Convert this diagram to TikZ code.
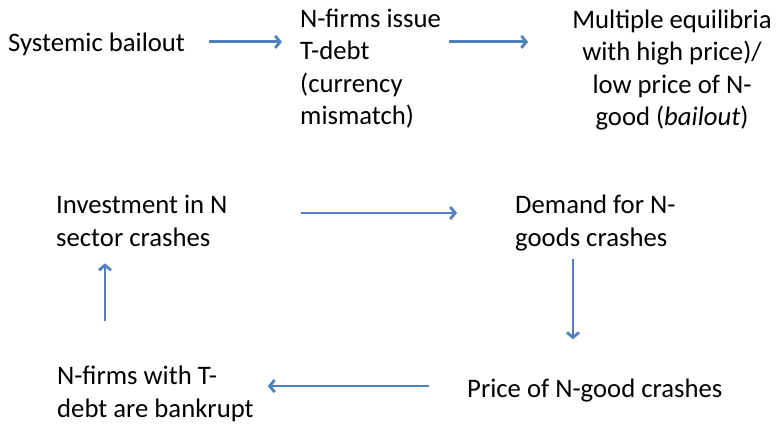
\documentclass[tikz,border=0pt]{standalone}
\usepackage{fontspec}
\setmainfont{Carlito}
\usetikzlibrary{arrows.meta}

\definecolor{bluofc}{HTML}{4F81BD}

\tikzset{
    testo/.style={inner sep=0pt, font=\fontsize{26.7}{32.6}\selectfont},
    freccia/.style={draw=bluofc, line width=2.8pt,
        -{Straight Barb[length=5pt, width=12pt]}}
}

\begin{document}
\begin{tikzpicture}[x=1pt, y=1pt]

    \useasboundingbox (0,0) rectangle (777,-425);

    % Riga superiore (base = ultima riga)
    \node[testo, anchor=base west] (sb) at (8,-52) {Systemic bailout};
    \node[testo, anchor=base west, align=left] (nf) at (300,-125)
        {N-firms issue\\T-debt\\(currency\\mismatch)};
    \node[testo, anchor=base, align=center] (me) at (672,-126)
        {Multiple equilibria\\with high price)/\\low price of N-\\good (\textit{bailout})};

    % Ciclo della crisi
    \node[testo, anchor=base west, align=left] (inv) at (56,-246)
        {Investment in N\\sector crashes};
    \node[testo, anchor=base west, align=left] (dem) at (515,-246)
        {Demand for N-\\goods crashes};
    \node[testo, anchor=base west] (pr) at (467,-397) {Price of N-good crashes};
    \node[testo, anchor=base west, align=left] (bk) at (57,-417)
        {N-firms with T-\\debt are bankrupt};

    % Frecce in alto
    \draw[freccia, shorten <=24pt, shorten >=18pt]
        ([yshift=3pt]sb.east) -- ([yshift=3pt]sb.east -| nf.west);
    \draw[freccia, shorten <=8pt, shorten >=44pt]
        ([yshift=3pt]sb.east -| nf.east) -- ([yshift=3pt]sb.east -| me.west);

    % Frecce del ciclo
    \draw[freccia, shorten <=73pt, shorten >=58pt]
        ([yshift=33pt]inv.base east) -- ([yshift=33pt]inv.base east -| dem.west);
    \draw[freccia, shorten <=8pt, shorten >=39pt]
        ([xshift=58pt]dem.south west) -- ([xshift=58pt]dem.south west |- pr.north);
    \draw[freccia, shorten <=38pt, shorten >=14pt]
        ([yshift=4pt]pr.west) -- ([yshift=4pt]pr.west -| bk.east);
    \draw[freccia, shorten <=45pt, shorten >=17pt]
        ([xshift=48pt]bk.north west) -- ([xshift=48pt]bk.north west |- inv.south);

\end{tikzpicture}
\end{document}
